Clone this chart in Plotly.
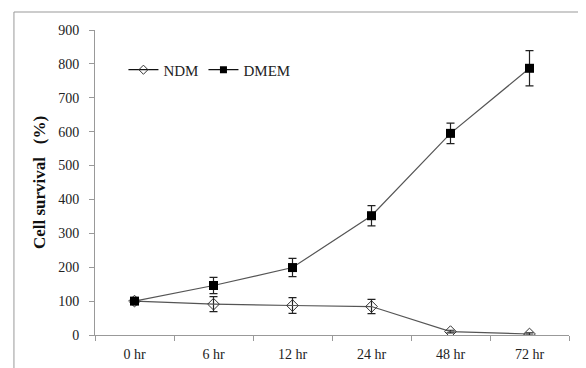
import plotly.graph_objects as go

categories = ["0 hr", "6 hr", "12 hr", "24 hr", "48 hr", "72 hr"]
ndm = [100, 91, 87, 84, 10, 3]
ndm_err = [6, 22, 23, 21, 4, 3]
dmem = [100, 146, 199, 352, 595, 787]
dmem_err = [6, 24, 27, 30, 30, 52]

serif = "Liberation Serif"

fig = go.Figure()
fig.add_trace(go.Scatter(
    x=categories, y=ndm, name="NDM", mode="lines+markers", showlegend=False,
    line=dict(color="#555555", width=1.2),
    marker=dict(symbol="diamond-open", size=9, color="#333333", line=dict(width=1)),
    error_y=dict(type="data", array=ndm_err, color="#222222", thickness=1.2, width=4),
))
fig.add_trace(go.Scatter(
    x=categories, y=dmem, name="DMEM", mode="lines+markers", showlegend=False,
    line=dict(color="#555555", width=1.2),
    marker=dict(symbol="square", size=9, color="black"),
    error_y=dict(type="data", array=dmem_err, color="#222222", thickness=1.2, width=4),
))
# legend entries (compact markers as in the reference legend)
fig.add_trace(go.Scatter(
    x=[None], y=[None], name="NDM", mode="lines+markers",
    line=dict(color="#111111", width=1.2),
    marker=dict(symbol="diamond-open", size=7, color="#333333", line=dict(width=1)),
))
fig.add_trace(go.Scatter(
    x=[None], y=[None], name="DMEM", mode="lines+markers",
    line=dict(color="#111111", width=1.2),
    marker=dict(symbol="square", size=7, color="black"),
))

border = dict(color="#999999", width=1)
fig.update_layout(
    width=578, height=360,
    margin=dict(l=87, r=17, t=22, b=33),
    paper_bgcolor="white", plot_bgcolor="white",
    font=dict(family=serif, size=14, color="#222222"),
    showlegend=True,
    legend=dict(orientation="h", x=0.06, y=0.869, xanchor="left", yanchor="middle",
                font=dict(family=serif, size=15, color="#222222"),
                bgcolor="rgba(0,0,0,0)", tracegroupgap=0),
    xaxis=dict(
        type="category", tickson="boundaries", ticks="outside", ticklen=5,
        tickcolor="#999999", showline=True, linecolor="#999999", linewidth=1,
        showgrid=False, zeroline=False, tickfont=dict(family=serif, size=14, color="#222222"),
        range=[-0.5, 5.5], automargin=False, ticklabelstandoff=6,
    ),
    yaxis=dict(
        range=[0, 900], dtick=100, ticks="outside", ticklen=5, tickcolor="#999999",
        showline=True, linecolor="#999999", linewidth=1, showgrid=False, zeroline=False,
        tickfont=dict(family=serif, size=14, color="#222222"),
        automargin=False, ticklabelstandoff=7,
        title=dict(text="<b>Cell survival&nbsp;&nbsp;&nbsp;(%)</b>",
                   font=dict(family=serif, size=17, color="#111111"), standoff=8),
    ),
    shapes=[
        dict(type="line", xref="paper", yref="paper", x0=-0.171, x1=1.2, y0=1.059, y1=1.059, line=border),
        dict(type="line", xref="paper", yref="paper", x0=-0.171, x1=-0.171, y0=-0.3, y1=1.059, line=border),
    ],
)

fig.write_html("out.html")
